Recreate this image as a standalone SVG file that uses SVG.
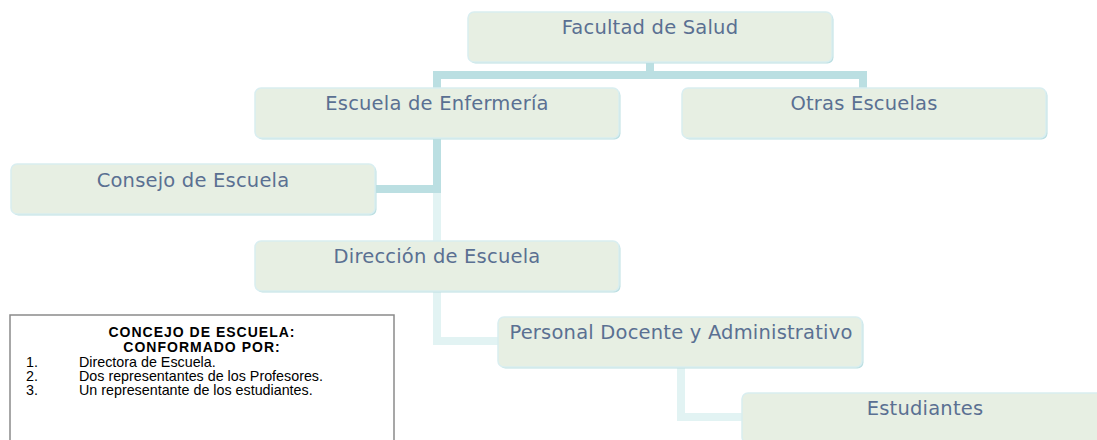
<svg xmlns="http://www.w3.org/2000/svg" width="1097" height="440" viewBox="0 0 1097 440">
<style>
.box{fill:#e7efe3;stroke:#d9eef0;stroke-width:1.5}
.shadow{fill:#bcdfe2}
.lbl{font-family:"DejaVu Sans",Verdana,sans-serif;font-size:19.5px;letter-spacing:0.2px;fill:#5a7092;text-anchor:middle}
.dark{fill:none;stroke:#bbdfe2;stroke-width:8}
.light{fill:none;stroke:#e2f3f3;stroke-width:8}
.leg{font-family:"Liberation Sans",Arial,sans-serif;font-size:14.3px;fill:#000}
.legt{font-family:"Liberation Sans",Arial,sans-serif;font-size:14px;font-weight:bold;letter-spacing:1px;fill:#000;text-anchor:middle}
</style>
<rect width="1097" height="440" fill="#ffffff"/>
<g id="connectors">
<path class="dark" d="M650 62 V75"/>
<path class="dark" d="M437 88 V75 H863 V88"/>
<path class="dark" d="M376 189 H437 V138"/>
<path class="light" d="M437 193 V341 H498"/>
<path class="light" d="M681 366 V417 H742"/>
</g>
<g id="facultad">
<rect class="shadow" x="469.5" y="13.5" width="364" height="50" rx="6"/>
<rect class="box" x="468" y="12" width="364" height="50" rx="6"/>
<text class="lbl" x="650" y="34">Facultad de Salud</text>
</g>
<g id="escuela-enfermeria">
<rect class="shadow" x="256.5" y="89.5" width="364" height="50" rx="6"/>
<rect class="box" x="255" y="88" width="364" height="50" rx="6"/>
<text class="lbl" x="437" y="110">Escuela de Enfermería</text>
</g>
<g id="otras-escuelas">
<rect class="shadow" x="683.5" y="89.5" width="364" height="50" rx="6"/>
<rect class="box" x="682" y="88" width="364" height="50" rx="6"/>
<text class="lbl" x="864" y="110">Otras Escuelas</text>
</g>
<g id="consejo">
<rect class="shadow" x="12.5" y="165.5" width="364" height="50" rx="6"/>
<rect class="box" x="11" y="164" width="364" height="50" rx="6"/>
<text class="lbl" x="193" y="187">Consejo de Escuela</text>
</g>
<g id="direccion">
<rect class="shadow" x="256.5" y="242.5" width="364" height="50" rx="6"/>
<rect class="box" x="255" y="241" width="364" height="50" rx="6"/>
<text class="lbl" x="437" y="263">Dirección de Escuela</text>
</g>
<g id="personal">
<rect class="shadow" x="499.5" y="318.5" width="364" height="50" rx="6"/>
<rect class="box" x="498" y="317" width="364" height="50" rx="6"/>
<text class="lbl" x="681" y="339">Personal Docente y Administrativo</text>
</g>
<g id="estudiantes">
<rect class="shadow" x="743.5" y="394.5" width="364" height="50" rx="6"/>
<rect class="box" x="742" y="393" width="364" height="50" rx="6"/>
<text class="lbl" x="925" y="415">Estudiantes</text>
</g>
<g id="leyenda">
<rect x="10" y="315" width="384" height="140" fill="#ffffff" stroke="#8a8a8a" stroke-width="1.5"/>
<text class="legt" x="202" y="337">CONCEJO DE ESCUELA:</text>
<text class="legt" x="202" y="352">CONFORMADO POR:</text>
<text class="leg" x="26" y="367">1.</text>
<text class="leg" x="79" y="367">Directora de Escuela.</text>
<text class="leg" x="26" y="381">2.</text>
<text class="leg" x="79" y="381">Dos representantes de los Profesores.</text>
<text class="leg" x="26" y="395">3.</text>
<text class="leg" x="79" y="395">Un representante de los estudiantes.</text>
</g>
</svg>
